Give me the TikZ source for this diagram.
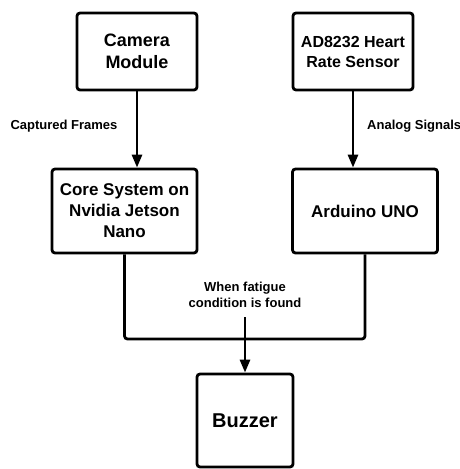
\documentclass[tikz,border=0pt]{standalone}
\usepackage{fontspec}
\setmainfont{Liberation Sans}
\usetikzlibrary{arrows.meta}
\begin{document}
\begin{tikzpicture}[x=1pt,y=-1pt,
  blockbox/.style={draw=black,line width=2.8pt,rounded corners=3pt,fill=white,align=center,
    inner sep=0pt,font=\bfseries},
  lbl/.style={font=\bfseries\fontsize{13}{15}\selectfont,align=center,inner sep=0pt},
  conn/.style={line width=2.8pt,black},
  arr/.style={conn,-{Triangle[length=13pt,width=10pt]}}]
\useasboundingbox (0,0) rectangle (460,469);
\node[blockbox,minimum width=120pt,minimum height=77pt,font=\bfseries\fontsize{18}{22}\selectfont] (cam) at (137,51.5) {Camera\\Module};
\node[blockbox,minimum width=120pt,minimum height=77pt,font=\bfseries\fontsize{16}{20}\selectfont] (ad) at (353,51.5) {AD8232 Heart\\Rate Sensor};
\node[blockbox,minimum width=145pt,minimum height=84pt,font=\bfseries\fontsize{17}{21}\selectfont] (core) at (124.5,211) {Core System on\\Nvidia Jetson\\Nano};
\node[blockbox,minimum width=145pt,minimum height=84pt,font=\bfseries\fontsize{17}{21}\selectfont] (ard) at (365,211) {Arduino UNO};
\node[blockbox,minimum width=96pt,minimum height=93pt,font=\bfseries\fontsize{20}{24}\selectfont] (buz) at (245,420.5) {Buzzer};
\node[lbl] (lcap) at (64,126) {Captured Frames};
\node[lbl,anchor=west] (lana) at (367,126) {Analog Signals};
\node[lbl,font=\bfseries\fontsize{13}{16}\selectfont] (lfat) at (245,295) {When fatigue\\condition is found};
\coordinate (jl) at (core.south |- 0,339);
\coordinate (jr) at (ard.south |- 0,339);
\coordinate (astart) at (245,317);
\draw[arr] (cam.south) -- (cam.south |- core.north);
\draw[arr] (ad.south) -- (ad.south |- ard.north);
\draw[conn,rounded corners=3pt] (core.south) -- (jl) -- (jr) -- (ard.south);
\draw[arr] (astart) -- (buz.north);
\end{tikzpicture}
\end{document}
